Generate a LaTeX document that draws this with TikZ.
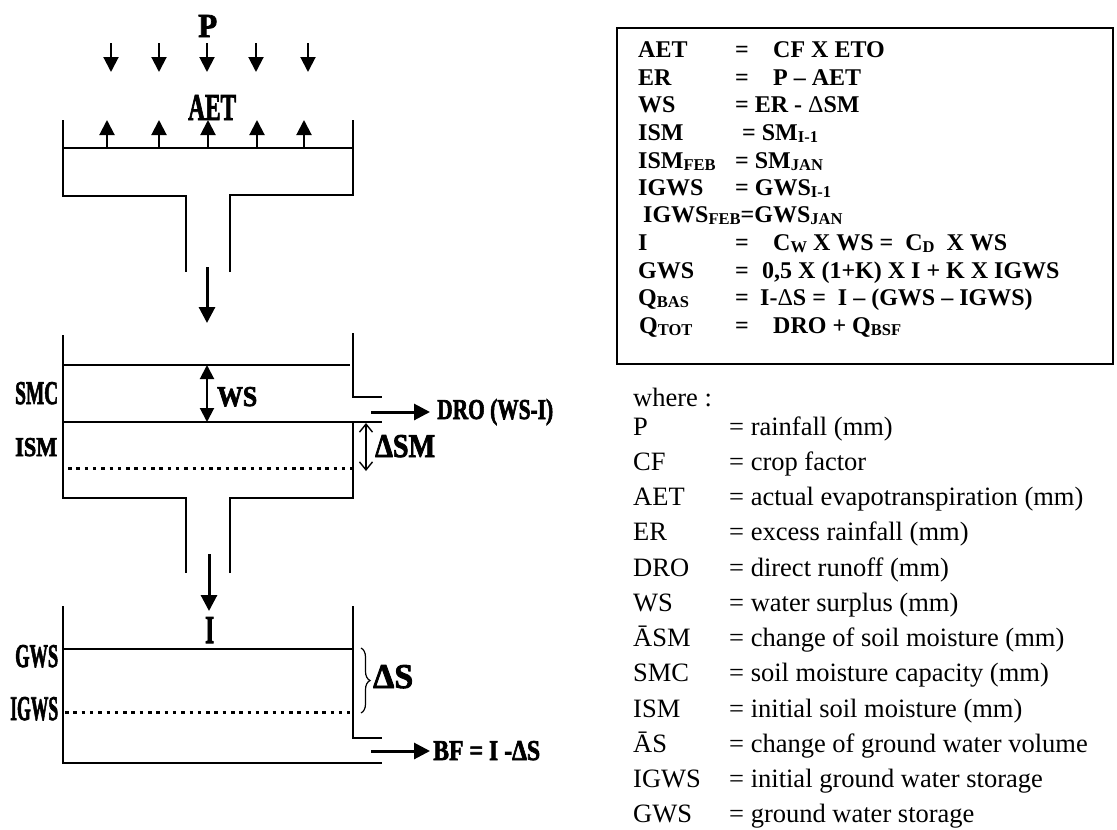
\documentclass[tikz,border=0pt]{standalone}
\usepackage{fontspec}
\setmainfont{Liberation Serif}
\newfontface\heavyf[FakeBold=2.5]{Liberation Serif Bold}
\usepackage{graphicx}
\usetikzlibrary{arrows.meta,decorations.pathreplacing}
\newcommand\cnd[3]{\resizebox{#1pt}{#2pt}{\fontsize{30}{30}\selectfont\heavyf #3}}
\newcommand\bxf{\fontsize{24}{24}\selectfont\bfseries}
\newcommand\lgf{\fontsize{26.5}{26.5}\selectfont}
\newcommand\sbs[1]{\raisebox{-2.5pt}{\fontsize{16.5}{16.5}\selectfont #1}}
\newcommand\md[1]{{\mdseries #1}}
\begin{document}
\begin{tikzpicture}[x=1pt,y=-1pt,
  tank/.style={line width=1.6pt},
  dots/.style={line width=3pt,dash pattern=on 3.5pt off 4.8pt},
  rain/.style={line width=2pt,-{Triangle[width=15pt,length=15pt]}},
  flow/.style={line width=3pt,-{Triangle[width=16pt,length=16pt]}},
  dbl/.style={line width=2pt,{Triangle[width=14pt,length=14pt]}-{Triangle[width=14pt,length=14pt]}},
  thinar/.style={line width=1.4pt,{Straight Barb[length=8pt,width=13pt]}-{Straight Barb[length=8pt,width=13pt]}},
  brc/.style={line width=1.2pt,decorate,decoration={brace,amplitude=9pt}},
  lab/.style={anchor=base west,inner sep=0pt},
  bx/.style={anchor=base west,inner sep=0pt,font=\bxf},
  lg/.style={anchor=base west,inner sep=0pt,font=\lgf}]
\useasboundingbox (0,0) rectangle (1117,830);

% ---------- tank 1 ----------
\draw[tank] (63,120) -- (63,196) -- (186,196) -- (186,272);
\draw[tank] (230,272) -- (230,195) -- (353,195) -- (353,120);
\draw[tank] (63,148) -- (353,148);
\foreach \x [count=\i] in {111,159,207,256,308}{
  \coordinate (r\i a) at (\x,43); \coordinate (r\i b) at (\x,72);
  \draw[rain] (r\i a) -- (r\i b);}
\foreach \x [count=\i] in {107,159,208,257,304}{
  \coordinate (e\i a) at (\x,147); \coordinate (e\i b) at (\x,120);
  \draw[rain] (e\i a) -- (e\i b);}
\node[lab] (P) at (198,37) {\cnd{19}{22}{P}};
\node[lab] (AET) at (188,120) {\cnd{48}{25}{AET}};

% ---------- tank 2 ----------
\coordinate (f1a) at (207,267); \coordinate (f1b) at (207,323);
\draw[flow] (f1a) -- (f1b);
\draw[tank] (63,335) -- (63,498) -- (186,498) -- (186,573);
\draw[tank] (230,573) -- (230,498) -- (353,498) -- (353,422);
\draw[tank] (353,333) -- (353,397) -- (382,397);
\draw[tank] (63,365) -- (350,365);
\draw[tank] (63,422) -- (382,422);
\draw[dots] (68,468) -- (352,468);
\coordinate (wsa) at (207,365); \coordinate (wsb) at (207,422);
\draw[dbl] (wsa) -- (wsb);
\coordinate (droa) at (371,412); \coordinate (drob) at (430,412);
\draw[flow] (droa) -- (drob);
\coordinate (dsma) at (366,423); \coordinate (dsmb) at (366,471);
\draw[thinar] (dsma) -- (dsmb);
\node[lab] (SMC) at (15,404) {\cnd{43}{22}{SMC}};
\node[lab] (WS) at (217,406) {\cnd{40}{19}{WS}};
\node[lab] (ISM) at (15,456) {\cnd{42}{18}{ISM}};
\node[lab] (DSM) at (375,457) {\cnd{60}{22}{ΔSM}};
\node[lab] (DRO) at (437,419) {\cnd{116}{20}{DRO (WS-I)}};

% ---------- tank 3 ----------
\coordinate (f2a) at (209,554); \coordinate (f2b) at (209,611);
\draw[flow] (f2a) -- (f2b);
\draw[tank] (63,606) -- (63,763) -- (382,763);
\draw[tank] (353,606) -- (353,738) -- (382,738);
\draw[tank] (63,649) -- (352,649);
\draw[dots] (65,712) -- (350,712);
\coordinate (bra) at (361,648); \coordinate (brb) at (361,713);
\draw[brc] (bra) -- (brb);
\coordinate (bfa) at (371,751); \coordinate (bfb) at (430,751);
\draw[flow] (bfa) -- (bfb);
\node[lab] (I) at (205,643) {\cnd{9}{26}{I}};
\node[lab] (GWS) at (15,667) {\cnd{43}{22}{GWS}};
\node[lab] (IGWS) at (10,720) {\cnd{48}{23}{IGWS}};
\node[lab] (DS) at (373,688) {\cnd{40}{23}{ΔS}};
\node[lab] (BF) at (433,760) {\cnd{107}{19}{BF = I -ΔS}};

% ---------- formula box ----------
\draw[line width=2pt] (617,28) rectangle (1113,364);
\node[bx] (l1a) at (638,57) {AET}; \node[bx] (l1b) at (735,57) {=}; \node[bx] (l1c) at (773,57) {CF X ETO};
\node[bx] (l2a) at (638,85) {ER}; \node[bx] (l2b) at (735,85) {=}; \node[bx] (l2c) at (773,85) {P – AET};
\node[bx] (l3a) at (638,112) {WS}; \node[bx] (l3b) at (735,112) {= ER - \md{Δ}SM};
\node[bx] (l4a) at (638,140) {ISM}; \node[bx] (l4b) at (742,140) {= SM\sbs{I-1}};
\node[bx] (l5a) at (638,168) {ISM\sbs{FEB}}; \node[bx] (l5b) at (735,168) {= SM\sbs{JAN}};
\node[bx] (l6a) at (638,195) {IGWS}; \node[bx] (l6b) at (735,195) {= GWS\sbs{I-1}};
\node[bx] (l7a) at (643,222) {IGWS\sbs{FEB}=GWS\sbs{JAN}};
\node[bx] (l8a) at (638,250) {I}; \node[bx] (l8b) at (735,250) {=}; \node[bx] (l8c) at (773,250) {C\sbs{W} X WS =~ C\sbs{D}~ X WS};
\node[bx] (l9a) at (638,278) {GWS}; \node[bx] (l9b) at (735,278) {=}; \node[bx] (l9c) at (762,278) {0,5 X (1+K) X I + K X IGWS};
\node[bx] (l10a) at (638,305) {Q\sbs{BAS}}; \node[bx] (l10b) at (735,305) {=}; \node[bx] (l10c) at (760,305) {I-\md{Δ}S =~ I – (GWS – IGWS)};
\node[bx] (l11a) at (639,333) {Q\sbs{TOT}}; \node[bx] (l11b) at (735,333) {=}; \node[bx] (l11c) at (773,333) {DRO + Q\sbs{BSF}};

% ---------- legend ----------
\node[lg] (where) at (633,406) {where :};
\foreach \k/\a/\b in {0/P/rainfall (mm),1/CF/crop factor,2/AET/actual evapotranspiration (mm),
  3/ER/excess rainfall (mm),4/DRO/direct runoff (mm),5/WS/water surplus (mm),
  6/ĀSM/change of soil moisture (mm),7/SMC/soil moisture capacity (mm),
  8/ISM/initial soil moisture (mm),9/ĀS/change of ground water volume,
  10/IGWS/initial ground water storage,11/GWS/ground water storage}{
  \node[lg] (lga\k) at (633,435+35.27*\k) {\a};
  \node[lg] (lgb\k) at (729,435+35.27*\k) {= \b};}
\end{tikzpicture}
\end{document}
